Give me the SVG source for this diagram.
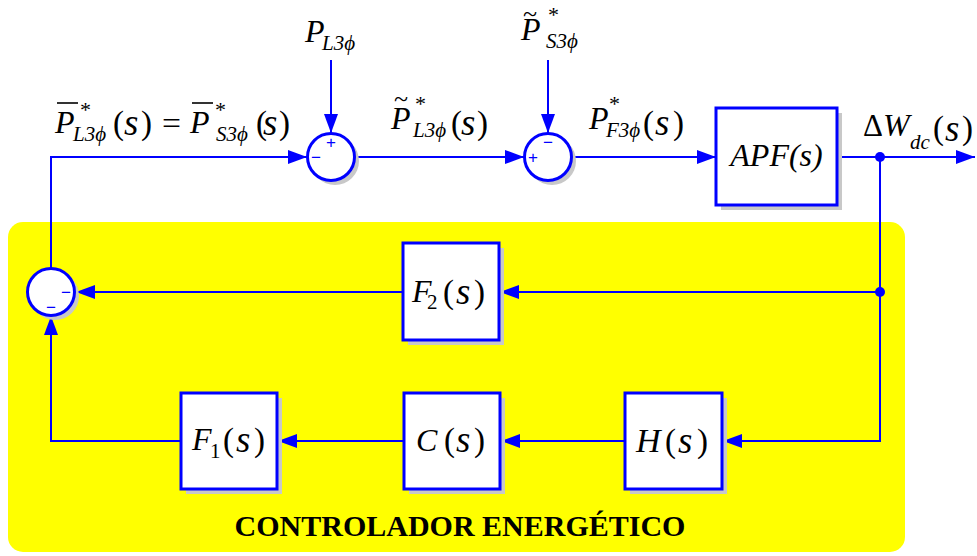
<svg xmlns="http://www.w3.org/2000/svg" width="977" height="556" viewBox="0 0 977 556">
<style>
.m{font-size:32px;fill:#000}
.i{font-style:italic}
.p{font-size:33px;font-style:normal}
.s{font-size:37px;font-style:italic}
.sub{font-size:21px;font-style:italic;fill:#000}
.star{font-size:22px;font-style:normal;fill:#000}
.sg{font-family:"Liberation Sans",Arial,sans-serif;font-size:17px;fill:#0000FF;text-anchor:middle}
.box{fill:#fff;stroke:#0000FF;stroke-width:3}
.sh{fill:#c8c8c8}
.sum{fill:#fff;stroke:#0000FF;stroke-width:3}
.ln{fill:none;stroke:#0000FF;stroke-width:2}
.bar{stroke:#000;stroke-width:1.6}
.title{font-size:30px;font-weight:bold;fill:#000;text-anchor:middle}
</style>
<defs>
<marker id="arr" markerUnits="userSpaceOnUse" markerWidth="20" markerHeight="16" refX="19" refY="7" orient="auto">
<path d="M0,0 L19,7 L0,14 Z" fill="#0000FF"/>
</marker>
</defs>
<rect x="8" y="222" width="897" height="330" rx="15" fill="#FFFF00"/>
<g id="connectors">
<path class="ln" d="M51,268 V157 H307" marker-end="url(#arr)"/>
<path class="ln" d="M331,60 V133" marker-end="url(#arr)"/>
<path class="ln" d="M355,157 H524" marker-end="url(#arr)"/>
<path class="ln" d="M548,60 V133" marker-end="url(#arr)"/>
<path class="ln" d="M572,157 H716" marker-end="url(#arr)"/>
<path class="ln" d="M837,157 H975" marker-end="url(#arr)"/>
<path class="ln" d="M880,157 V441 H723" marker-end="url(#arr)"/>
<path class="ln" d="M880,292 H500" marker-end="url(#arr)"/>
<path class="ln" d="M403,292 H76" marker-end="url(#arr)"/>
<path class="ln" d="M625,441 H501" marker-end="url(#arr)"/>
<path class="ln" d="M404,441 H278" marker-end="url(#arr)"/>
<path class="ln" d="M181,441 H51 V316" marker-end="url(#arr)"/>
<circle cx="880" cy="157" r="5" fill="#0000FF"/>
<circle cx="880" cy="292" r="5" fill="#0000FF"/>
</g>
<g id="sum1">
<circle class="sh" cx="335" cy="161" r="24"/>
<circle class="sum" cx="331" cy="157" r="23.5"/>
<text class="sg" x="331" y="148">+</text>
<text class="sg" x="316" y="163">−</text>
</g>
<g id="sum2">
<circle class="sh" cx="552" cy="161" r="24"/>
<circle class="sum" cx="548" cy="157" r="23.5"/>
<text class="sg" x="548" y="148">−</text>
<text class="sg" x="533" y="163">+</text>
</g>
<g id="sum3">
<circle class="sh" cx="55" cy="296" r="24"/>
<circle class="sum" cx="51" cy="292" r="23.5"/>
<text class="sg" x="66" y="298">−</text>
<text class="sg" x="51" y="313">−</text>
</g>
<g font-family="Liberation Serif, Times New Roman, serif">
<g id="apf">
<rect class="sh" x="721" y="113" width="121" height="97"/>
<rect class="box" x="716" y="108" width="121" height="97"/>
<text class="m i" x="776.5" y="166" font-size="33" text-anchor="middle">APF(s)</text>
</g>
<g id="f2">
<rect class="sh" x="408" y="248" width="96" height="97"/>
<rect class="box" x="403" y="243" width="96" height="97"/>
<text class="m"><tspan class="i" x="412" y="302">F</tspan><tspan font-size="21" x="427" y="309">2</tspan><tspan class="p" x="443" y="303">(</tspan><tspan class="s" x="456" y="304">s</tspan><tspan class="p" x="474" y="303">)</tspan></text>
</g>
<g id="f1">
<rect class="sh" x="186" y="398" width="96" height="96"/>
<rect class="box" x="181" y="393" width="96" height="96"/>
<text class="m"><tspan class="i" x="192" y="450">F</tspan><tspan font-size="21" x="210" y="458">1</tspan><tspan class="p" x="223" y="451">(</tspan><tspan class="s" x="236" y="452">s</tspan><tspan class="p" x="254" y="451">)</tspan></text>
</g>
<g id="c">
<rect class="sh" x="409" y="398" width="96" height="96"/>
<rect class="box" x="404" y="393" width="96" height="96"/>
<text class="m"><tspan class="i" x="416" y="451">C</tspan><tspan class="p" x="444" y="451">(</tspan><tspan class="s" x="456" y="452">s</tspan><tspan class="p" x="474" y="451">)</tspan></text>
</g>
<g id="h">
<rect class="sh" x="630" y="398" width="97" height="96"/>
<rect class="box" x="625" y="393" width="97" height="96"/>
<text class="m"><tspan class="i" x="636" y="452" font-size="34">H</tspan><tspan class="p" x="665" y="452">(</tspan><tspan class="s" x="678" y="453">s</tspan><tspan class="p" x="697" y="452">)</tspan></text>
</g>
<g id="label-feedback">
<line class="bar" x1="57" y1="103" x2="78" y2="103"/>
<line class="bar" x1="192" y1="103" x2="213" y2="103"/>
<text class="m"><tspan class="i" x="55" y="133">P</tspan><tspan class="star" x="80" y="117">*</tspan><tspan class="sub" x="73" y="141">L3ϕ</tspan><tspan class="p" x="113" y="134">(</tspan><tspan class="s" x="124" y="135">s</tspan><tspan class="p" x="141" y="134">)</tspan><tspan class="i" x="190" y="133">P</tspan><tspan class="star" x="215" y="117">*</tspan><tspan class="sub" x="216" y="141">S3ϕ</tspan><tspan class="p" x="256" y="134">(</tspan><tspan class="s" x="263" y="135">s</tspan><tspan class="p" x="279" y="134">)</tspan></text>
<text class="m" x="162" y="134" font-size="34" textLength="19" lengthAdjust="spacingAndGlyphs">=</text>
</g>
<g id="label-pl">
<text class="m"><tspan class="i" x="305" y="42">P</tspan><tspan class="sub" x="322" y="50">L3ϕ</tspan></text>
</g>
<g id="label-ps">
<text class="m"><tspan x="523" y="22" font-size="26">~</tspan><tspan class="i" x="521" y="40">P</tspan><tspan class="star" x="548" y="22">*</tspan><tspan class="sub" x="546" y="48">S3ϕ</tspan></text>
</g>
<g id="label-pl-tilde">
<text class="m"><tspan x="394" y="107" font-size="26">~</tspan><tspan class="i" x="391" y="129">P</tspan><tspan class="star" x="415" y="111">*</tspan><tspan class="sub" x="413" y="137">L3ϕ</tspan><tspan class="p" x="451" y="134">(</tspan><tspan class="s" x="461" y="135">s</tspan><tspan class="p" x="477" y="134">)</tspan></text>
</g>
<g id="label-pf">
<text class="m"><tspan class="i" x="589" y="129">P</tspan><tspan class="star" x="609" y="111">*</tspan><tspan class="sub" x="606" y="137">F3ϕ</tspan><tspan class="p" x="643" y="134">(</tspan><tspan class="s" x="655" y="135">s</tspan><tspan class="p" x="673" y="134">)</tspan></text>
</g>
<g id="label-w">
<text class="m"><tspan x="863" y="136" font-size="31">Δ</tspan><tspan class="i" x="883" y="136">W</tspan><tspan class="sub" x="910" y="149">dc</tspan><tspan class="p" x="933" y="139">(</tspan><tspan class="s" x="945" y="141">s</tspan><tspan class="p" x="962" y="139">)</tspan></text>
</g>
<text class="title" x="460" y="536">CONTROLADOR ENERGÉTICO</text>
</g>
</svg>
